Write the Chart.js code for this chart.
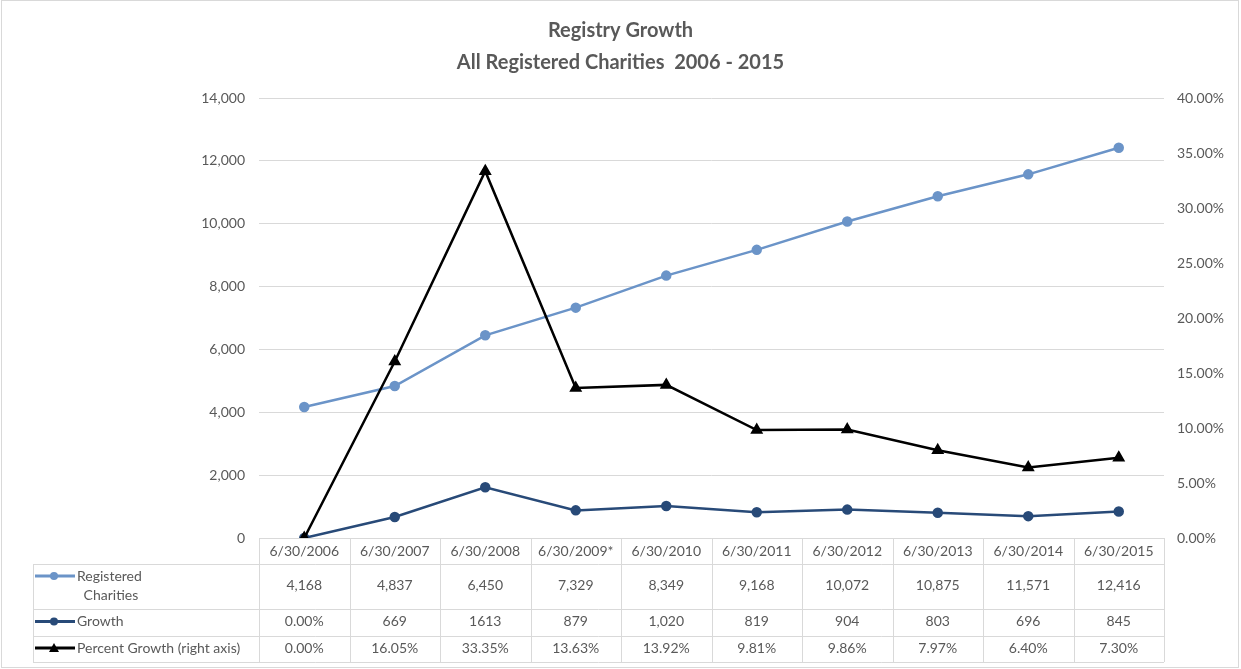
<!DOCTYPE html>
<html>
<head>
<meta charset="utf-8">
<script src="https://cdn.jsdelivr.net/npm/chart.js@4/dist/chart.umd.min.js"></script>
<style>
  html, body { margin: 0; padding: 0; background: #fff; }
  #wrap { width: 1241px; height: 669px; position: relative; }
</style>
</head>
<body>
<div id="wrap"><canvas id="chart" width="1241" height="669"></canvas></div>
<script>
const categories = ["6/30/2006", "6/30/2007", "6/30/2008", "6/30/2009*", "6/30/2010",
                    "6/30/2011", "6/30/2012", "6/30/2013", "6/30/2014", "6/30/2015"];
const registered    = [4168, 4837, 6450, 7329, 8349, 9168, 10072, 10875, 11571, 12416];
const growth        = [0, 669, 1613, 879, 1020, 819, 904, 803, 696, 845];
const percentGrowth = [0, 16.05, 33.35, 13.63, 13.92, 9.81, 9.86, 7.97, 6.40, 7.30];

// texts as printed in the data table
const registeredText = ["4,168", "4,837", "6,450", "7,329", "8,349", "9,168", "10,072", "10,875", "11,571", "12,416"];
const growthText     = ["0.00%", "669", "1613", "879", "1,020", "819", "904", "803", "696", "845"];
const percentText    = ["0.00%", "16.05%", "33.35%", "13.63%", "13.92%", "9.81%", "9.86%", "7.97%", "6.40%", "7.30%"];

const FONT = "Lato, 'Open Sans', sans-serif";
const TEXT = "#595959";
const LINE = "#d9d9d9";

const COL_REG = "#6b94c8";
const COL_GRO = "#284a78";
const COL_PCT = "#000000";

// ── fondo y borde ─────────────────────────────────────────────
const frame = {
    id: "frame",
    beforeDraw(chart) {
        const { ctx, width, height } = chart;
        ctx.save();
        ctx.fillStyle = "#fff";
        ctx.fillRect(0, 0, width, height);
        ctx.strokeStyle = LINE;
        ctx.lineWidth = 1;
        ctx.strokeRect(1.5, 0.5, width - 4, height - 2);
        ctx.restore();
    }
};

// ── tabla de datos bajo el gráfico ─────────────────────────────
function drawMarker(ctx, kind, x, y, color) {
    ctx.fillStyle = color;
    ctx.beginPath();
    if (kind === "triangle") {
        ctx.moveTo(x, y - 5);
        ctx.lineTo(x + 5, y + 4);
        ctx.lineTo(x - 5, y + 4);
        ctx.closePath();
    } else {
        ctx.arc(x, y, 4, 0, Math.PI * 2);
    }
    ctx.fill();
}

const dataTable = {
    id: "dataTable",
    afterDraw(chart) {
        const { ctx, chartArea } = chart;
        const x = chart.scales.x;
        const step  = x.getPixelForValue(1) - x.getPixelForValue(0);
        const left  = x.getPixelForValue(0) - step / 2;
        const right = left + step * categories.length;
        const top   = chartArea.bottom;
        const rows  = [top, top + 26, top + 71, top + 98, top + 124];
        const labelLeft = 33;

        ctx.save();
        ctx.strokeStyle = LINE;
        ctx.lineWidth = 1;
        ctx.beginPath();
        ctx.moveTo(left, rows[0] + 0.5);
        ctx.lineTo(right, rows[0] + 0.5);
        for (let r = 1; r < rows.length; r++) {
            ctx.moveTo(labelLeft, Math.round(rows[r]) + 0.5);
            ctx.lineTo(right, Math.round(rows[r]) + 0.5);
        }
        ctx.moveTo(labelLeft + 0.5, rows[1]);
        ctx.lineTo(labelLeft + 0.5, rows[4]);
        for (let i = 0; i <= categories.length; i++) {
            const cx = Math.round(left + i * step) + 0.5;
            ctx.moveTo(cx, rows[0]);
            ctx.lineTo(cx, rows[4]);
        }
        ctx.stroke();

        ctx.font = "14px " + FONT;
        ctx.fillStyle = TEXT;
        ctx.textAlign = "center";
        ctx.textBaseline = "middle";
        const texts = [registeredText, growthText, percentText];
        texts.forEach((arr, r) => {
            const cy = (rows[r + 1] + rows[r + 2]) / 2 - 1;
            arr.forEach((t, i) => ctx.fillText(t, x.getPixelForValue(i), cy));
        });

        // leyenda de cada fila
        const legend = [
            { color: COL_REG, kind: "circle",   y: rows[1] + 12, lines: ["Registered", " Charities"] },
            { color: COL_GRO, kind: "circle",   y: (rows[2] + rows[3]) / 2 - 1, lines: ["Growth"] },
            { color: COL_PCT, kind: "triangle", y: (rows[3] + rows[4]) / 2 - 1, lines: ["Percent Growth (right axis)"] },
        ];
        legend.forEach(l => {
            ctx.strokeStyle = l.color;
            ctx.lineWidth = 3;
            ctx.beginPath();
            ctx.moveTo(35, l.y);
            ctx.lineTo(75, l.y);
            ctx.stroke();
            drawMarker(ctx, l.kind, 54, l.y, l.color);
            ctx.fillStyle = TEXT;
            ctx.textAlign = "left";
            l.lines.forEach((t, k) => ctx.fillText(t, t.startsWith(" ") ? 80 : 77, l.y + k * 19));
        });
        ctx.restore();
    }
};

new Chart(document.getElementById("chart"), {
    type: "line",
    data: {
        labels: categories,
        datasets: [
            {
                label: "Registered Charities",
                data: registered,
                yAxisID: "y",
                borderColor: COL_REG,
                backgroundColor: COL_REG,
                borderWidth: 2.5,
                pointRadius: 4,
                pointStyle: "circle",
                order: 2,
            },
            {
                label: "Growth",
                data: growth,
                yAxisID: "y",
                borderColor: COL_GRO,
                backgroundColor: COL_GRO,
                borderWidth: 2.5,
                pointRadius: 4,
                pointStyle: "circle",
                order: 1,
            },
            {
                label: "Percent Growth (right axis)",
                data: percentGrowth,
                yAxisID: "y1",
                borderColor: COL_PCT,
                backgroundColor: COL_PCT,
                borderWidth: 2.5,
                pointRadius: 5,
                pointStyle: "triangle",
                order: 0,
            },
        ]
    },
    options: {
        responsive: false,
        animation: false,
        layout: { padding: { left: 0, right: 0, top: 0, bottom: 105 } },
        plugins: {
            legend: { display: false },
            tooltip: { enabled: false },
            title: {
                display: true,
                text: ["Registry Growth", "All Registered Charities  2006 - 2015"],
                color: TEXT,
                font: { family: FONT, size: 20, weight: "bold", lineHeight: 1.6 },
                padding: { top: 15, bottom: 19 },
            },
        },
        scales: {
            x: {
                offset: true,
                grid: { display: false, drawTicks: false },
                border: { display: false },
                ticks: { color: TEXT, font: { family: FONT, size: 14 }, padding: 5, maxRotation: 0, autoSkip: false },
                afterFit(s) { s.height = 26; },
            },
            y: {
                position: "left",
                min: 0,
                max: 14000,
                grid: { color: LINE, drawTicks: false },
                border: { display: false },
                ticks: {
                    stepSize: 2000,
                    color: TEXT,
                    font: { family: FONT, size: 14 },
                    padding: 14,
                    callback: v => v.toLocaleString("en-US"),
                },
                afterFit(s) { s.width = 259; },
            },
            y1: {
                position: "right",
                min: 0,
                max: 40,
                grid: { display: false, drawTicks: false },
                border: { display: false },
                ticks: {
                    stepSize: 5,
                    color: TEXT,
                    font: { family: FONT, size: 14 },
                    padding: 13,
                    callback: v => v.toFixed(2) + "%",
                },
                afterFit(s) { s.width = 77; },
            },
        },
    },
    plugins: [frame, dataTable],
});
</script>
</body>
</html>
